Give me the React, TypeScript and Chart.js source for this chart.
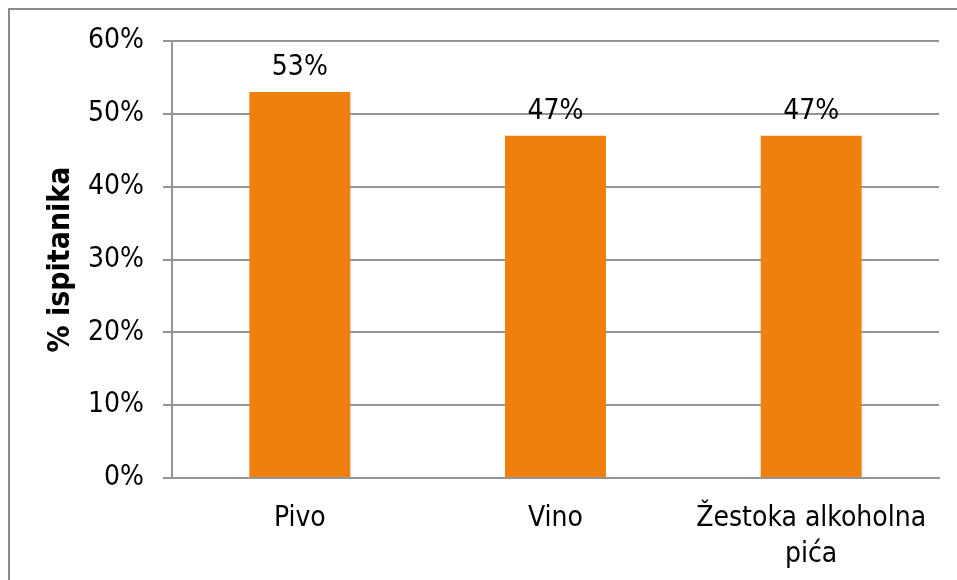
import React, { useEffect, useRef } from "react";
import { Chart, registerables } from "chart.js";

Chart.register(...registerables);

const categories: (string | string[])[] = ["Pivo", "Vino", ["Žestoka alkoholna", "pića"]];
const values: number[] = [53, 47, 47];
const yTicks: number[] = [0, 10, 20, 30, 40, 50, 60];
const yTitle = "% ispitanika";

const FONT = "'DejaVu Sans Condensed', 'DejaVu Sans', Verdana, sans-serif";
const GRID = "#959595";
const FS = 28;

const dataLabels = {
  id: "dataLabels",
  afterDatasetsDraw(chart: any) {
    const ctx = chart.ctx;
    const meta = chart.getDatasetMeta(0);
    ctx.save();
    ctx.font = `${FS}px ${FONT}`;
    ctx.fillStyle = "#000";
    ctx.textAlign = "center";
    ctx.textBaseline = "alphabetic";
    meta.data.forEach((bar: any, i: number) => {
      ctx.fillText(`${values[i]}%`, bar.x, bar.y - 17);
    });
    ctx.restore();
  },
};

export default function App() {
  const ref = useRef<HTMLCanvasElement | null>(null);
  useEffect(() => {
    document.documentElement.style.overflow = "hidden";
    document.body.style.overflow = "hidden";
    if (!ref.current) return;
    const chart = new Chart(ref.current, {
      type: "bar",
      data: {
        labels: categories,
        datasets: [
          {
            data: values,
            backgroundColor: "#EF800D",
            borderWidth: 0,
            barPercentage: 0.395,
            categoryPercentage: 1,
          },
        ],
      },
      options: {
        animation: false,
        responsive: false,
        maintainAspectRatio: false,
        layout: { padding: { top: 31, right: 18, left: 0, bottom: 0 } },
        plugins: { legend: { display: false }, tooltip: { enabled: false } },
        scales: {
          x: {
            grid: { display: false, drawTicks: false },
            border: { display: true, color: GRID, width: 2 },
            ticks: {
              color: "#000",
              font: { family: FONT, size: FS, lineHeight: 1.29 },
              padding: 23,
              maxRotation: 0,
              autoSkip: false,
            },
            afterFit: (s: any) => {
              s.height = 102;
            },
          },
          y: {
            min: 0,
            max: 60,
            afterBuildTicks: (s: any) => {
              s.ticks = yTicks.map((v) => ({ value: v }));
            },
            grid: { color: GRID, lineWidth: 2, tickLength: 9, drawTicks: true },
            border: { display: true, color: GRID, width: 2 },
            ticks: {
              color: "#000",
              font: { family: FONT, size: FS },
              padding: 19,
              callback: (v: any) => `${v}%`,
            },
            title: {
              display: true,
              text: yTitle,
              color: "#000",
              font: { family: FONT, size: 30, weight: "bold" },
              padding: { top: 33, bottom: 0 },
            },
            afterFit: (s: any) => {
              s.width = 162;
              s.paddingTop = 0;
              s.paddingBottom = 0;
            },
          },
        },
      },
      plugins: [dataLabels],
    });
    return () => chart.destroy();
  }, []);

  return (
    <div
      style={{
        position: "fixed",
        left: 8,
        top: 8,
        width: 949,
        height: 572,
        boxSizing: "border-box",
        borderTop: "2px solid #8a8a8a",
        borderLeft: "2px solid #8a8a8a",
        overflow: "hidden",
      }}
    >
      <canvas ref={ref} width={947} height={570} style={{ display: "block", width: 947, height: 570 }} />
    </div>
  );
}
